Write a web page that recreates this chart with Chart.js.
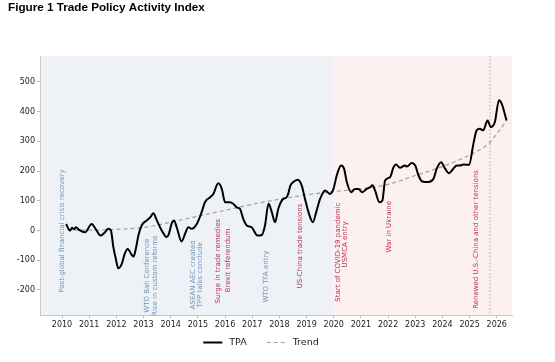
<!DOCTYPE html>
<html><head><meta charset="utf-8">
<script src="https://cdn.jsdelivr.net/npm/chart.js@4.4.1/dist/chart.umd.min.js"></script>
<style>html,body{margin:0;padding:0;background:#fff}#wrap{width:555px;height:362px}</style>
</head><body><div id="wrap"><canvas id="c" width="555" height="362"></canvas></div>
<script>
// ---- data ----
const tpaYears = [2010.15,2010.29,2010.37,2010.44,2010.51,2010.63,2010.85,2011.09,2011.27,2011.42,2011.58,2011.70,2011.80,2011.89,2011.98,2012.07,2012.20,2012.30,2012.42,2012.55,2012.63,2012.72,2012.81,2012.93,2013.12,2013.25,2013.36,2013.49,2013.67,2013.85,2013.92,2014.04,2014.12,2014.22,2014.40,2014.53,2014.65,2014.77,2014.96,2015.14,2015.26,2015.45,2015.57,2015.75,2015.88,2016.00,2016.18,2016.30,2016.43,2016.55,2016.67,2016.80,2016.98,2017.19,2017.35,2017.47,2017.60,2017.72,2017.84,2017.96,2018.15,2018.25,2018.33,2018.40,2018.51,2018.67,2018.82,2018.94,2019.09,2019.23,2019.37,2019.50,2019.68,2019.86,2019.99,2020.11,2020.27,2020.38,2020.48,2020.64,2020.78,2020.91,2021.05,2021.21,2021.34,2021.42,2021.52,2021.68,2021.79,2021.89,2022.07,2022.20,2022.29,2022.44,2022.62,2022.69,2022.87,2023.00,2023.12,2023.26,2023.48,2023.67,2023.79,2023.95,2024.10,2024.24,2024.40,2024.53,2024.65,2024.77,2024.98,2025.14,2025.26,2025.38,2025.50,2025.66,2025.78,2025.93,2026.08,2026.18,2026.36];
const tpaValues = [22,0,9,4,11,2,-6,22,0,-17,-6,6,0,-56,-95,-127,-112,-80,-62,-80,-88,-60,-17,17,34,45,58,34,0,-22,-15,25,34,11,-37,-11,11,6,22,62,95,112,123,159,140,95,95,90,78,73,39,17,11,-17,-15,17,90,62,28,73,107,110,125,150,163,171,152,107,56,28,67,107,135,123,140,185,219,208,163,129,140,140,129,140,146,152,135,95,101,168,179,213,222,211,219,215,227,219,185,165,163,174,208,230,208,193,208,219,219,222,221,292,337,342,337,370,348,365,438,427,370];
const trendYears = [2010.2,2011,2012,2013,2014,2015,2016,2017,2018,2019,2020,2021,2022,2023,2024,2024.7,2025.3,2025.7,2026.0,2026.36];
const trendValues = [2,1,4,10,28,48,68,88,105,120,131,140,155,185,215,241,268,292,325,370];
const xTickYears = [2010,2011,2012,2013,2014,2015,2016,2017,2018,2019,2020,2021,2022,2023,2024,2025,2026];
const yTickValues = [-200,-100,0,100,200,300,400,500];
const periodStart = [2009.19, 2020.0];
const periodEnd = [2020.0, 2026.56];
const periodKind = ['pre','post'];
const markerYear = 2025.75;
const eventLabels = ['Post-global financial crisis recovery','WTO Bali Conference','Rise in custom reforms','ASEAN AEC created','TPP talks conclude','Surge in trade remedies','Brexit referendum','WTO TFA entry','US-China trade tensions','Start of COVID-19 pandemic','USMCA entry','War in Ukraine','Renewed U.S.-China and other tensions'];
const eventYears = [2009.99,2013.14,2013.42,2014.83,2015.08,2015.73,2016.12,2017.51,2018.76,2020.15,2020.42,2022.05,2025.26];
const eventCenters = [-2,-152,-152,-149,-149,-103,-101,-155,-52,-73,-47,13,-30];
const eventKind = ['pre','pre','pre','pre','pre','post','post','pre','post','post','post','post','post'];

// ---- styles ----
const periodColor = {pre:'#eef2f7', post:'#fdf0f0'};
const eventColor = {pre:'#6f93b5', post:'#b8324a'};

const tpaPoints = tpaYears.map((x,i)=>({x, y: tpaValues[i]}));
const trendPoints = trendYears.map((x,i)=>({x, y: trendValues[i]}));

const bgPlugin = {
  id:'bg',
  beforeDraw(chart){
    const {ctx, chartArea:a, scales:{x}} = chart;
    ctx.save();
    for(let i=0;i<periodStart.length;i++){
      const x0 = Math.max(a.left, x.getPixelForValue(periodStart[i]));
      const x1 = Math.min(a.right, x.getPixelForValue(periodEnd[i]));
      ctx.fillStyle = periodColor[periodKind[i]];
      ctx.fillRect(x0, a.top, x1-x0, a.bottom-a.top);
    }
    ctx.restore();
  },
  beforeDatasetsDraw(chart){
    const {ctx, chartArea:a, scales:{x,y}} = chart;
    ctx.save();
    ctx.beginPath(); ctx.rect(a.left,a.top,a.right-a.left,a.bottom-a.top); ctx.clip();
    const mx = x.getPixelForValue(markerYear);
    ctx.strokeStyle = '#a8a8a8'; ctx.lineWidth = 1; ctx.setLineDash([1.5,2]);
    ctx.beginPath(); ctx.moveTo(mx, a.top); ctx.lineTo(mx, a.bottom); ctx.stroke();
    ctx.setLineDash([]);
    ctx.font = '7px "DejaVu Sans"';
    ctx.textAlign = 'center'; ctx.textBaseline = 'middle';
    for(let i=0;i<eventLabels.length;i++){
      ctx.save();
      ctx.translate(x.getPixelForValue(eventYears[i]), y.getPixelForValue(eventCenters[i]));
      ctx.rotate(-Math.PI/2);
      ctx.fillStyle = eventColor[eventKind[i]];
      ctx.fillText(eventLabels[i], 0, 0);
      ctx.restore();
    }
    ctx.restore();
  },
  afterDraw(chart){
    // legend in the matplotlib style: line sample, gap, label; items separated
    const {ctx, chartArea:a} = chart;
    const ds = chart.data.datasets;
    ctx.save();
    ctx.font = '9.5px "DejaVu Sans"';
    ctx.textBaseline = 'middle'; ctx.textAlign = 'left';
    const lineW = 19, gapText = 7, gapItem = 20;
    const widths = ds.map(d => lineW + gapText + ctx.measureText(d.label).width);
    const total = widths.reduce((s,w)=>s+w,0) + gapItem*(ds.length-1);
    let cx = (a.left + a.right)/2 - 15 - total/2;
    const cy = 342.5;
    ds.forEach((d,i)=>{
      ctx.strokeStyle = d.borderColor; ctx.lineWidth = d.borderWidth;
      ctx.setLineDash(d.borderDash || []);
      ctx.beginPath(); ctx.moveTo(cx, cy); ctx.lineTo(cx+lineW, cy); ctx.stroke();
      ctx.setLineDash([]);
      ctx.fillStyle = '#222';
      ctx.fillText(d.label, cx + lineW + gapText, cy + 0.5);
      cx += widths[i] + gapItem;
    });
    ctx.restore();
  }
};

new Chart(document.getElementById('c'), {
  type:'line',
  data:{datasets:[
    {label:'TPA', data:tpaPoints, borderColor:'#000', backgroundColor:'#000', borderWidth:2, pointRadius:0, cubicInterpolationMode:'monotone', fill:false},
    {label:'Trend', data:trendPoints, borderColor:'#a0a0a0', backgroundColor:'#a0a0a0', borderWidth:1.2, borderDash:[4,3], pointRadius:0, cubicInterpolationMode:'monotone', fill:false}
  ]},
  options:{
    responsive:false, devicePixelRatio:1, animation:false,
    layout:{padding:{left:8, right:43, top:0, bottom:30}},
    plugins:{
      title:{display:true, text:'Figure 1 Trade Policy Activity Index', align:'start', color:'#000',
        font:{family:'"Liberation Sans", Arial, sans-serif', weight:'bold', size:11.7}, padding:{top:1,bottom:41}},
      legend:{display:false},
      tooltip:{enabled:false}
    },
    scales:{
      x:{type:'linear', min:2009.19, max:2026.56,
        afterBuildTicks:s=>{s.ticks = xTickYears.map(v=>({value:v}));},
        afterFit:s=>{s.height = 16.5;},
        ticks:{autoSkip:false, maxRotation:0, color:'#222', padding:2, font:{family:'"DejaVu Sans"', size:8}, callback:v=>String(v)},
        grid:{display:true, drawOnChartArea:false, drawTicks:true, tickLength:3, color:'#bbb'},
        border:{display:true, color:'#c8c8c8'}},
      y:{type:'linear', min:-286, max:587,
        afterBuildTicks:s=>{s.ticks = yTickValues.map(v=>({value:v}));},
        afterFit:s=>{s.width = 32;},
        ticks:{color:'#222', padding:2, font:{family:'"DejaVu Sans"', size:8}, callback:v=>String(v)},
        grid:{display:true, drawOnChartArea:false, drawTicks:true, tickLength:3, color:'#bbb'},
        border:{display:true, color:'#c8c8c8'}}
    }
  },
  plugins:[bgPlugin]
});
</script></body></html>
